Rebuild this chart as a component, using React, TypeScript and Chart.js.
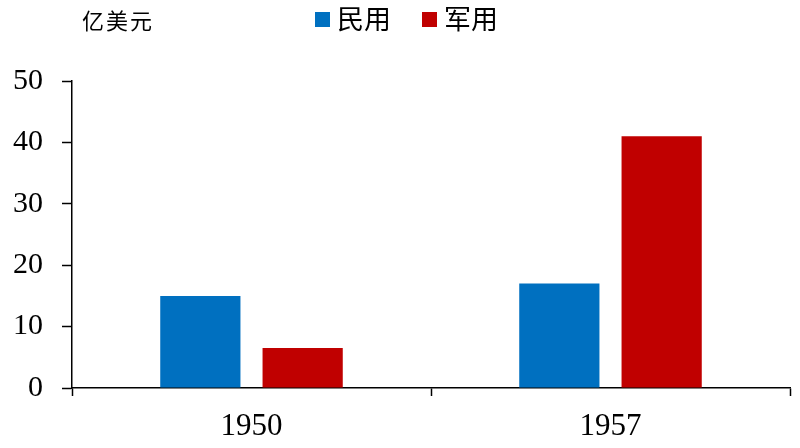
import React, { useEffect, useRef } from "react";
import { Chart, registerables } from "chart.js";

Chart.register(...registerables);

const categories = ["1950", "1957"];
const civilValues = [15, 17];
const militaryValues = [6.5, 41];
const seriesNames = ["民用", "军用"];
const seriesColors = ["#0070C0", "#C00000"];
const unitLabel = "亿美元";
const yTicks = [0, 10, 20, 30, 40, 50];

const overlayPlugin = {
  id: "overlay",
  afterDraw(chart: any) {
    const ctx = chart.ctx;
    ctx.save();
    ctx.fillStyle = "#000";
    ctx.textBaseline = "middle";
    ctx.textAlign = "left";
    ctx.font = "22px 'Noto Sans CJK SC'";
    (ctx as any).letterSpacing = "2px";
    ctx.fillText(unitLabel, 82, 21);
    (ctx as any).letterSpacing = "0px";
    // legend
    const xs = [315, 422];
    ctx.font = "27px 'Noto Sans CJK SC'";
    chart.data.datasets.forEach((ds: any, i: number) => {
      ctx.fillStyle = ds.backgroundColor;
      ctx.fillRect(xs[i], 12, 15, 15);
      ctx.fillStyle = "#000";
      ctx.fillText(ds.label, xs[i] + 22, 19);
    });
    ctx.restore();
  },
};

export default function App() {
  const ref = useRef<HTMLCanvasElement>(null);
  useEffect(() => {
    document.body.style.margin = "0";
    const chart = new Chart(ref.current!, {
      type: "bar",
      data: {
        labels: categories,
        datasets: [
          { label: seriesNames[0], data: civilValues, backgroundColor: seriesColors[0] },
          { label: seriesNames[1], data: militaryValues, backgroundColor: seriesColors[1] },
        ],
      },
      options: {
        animation: false,
        responsive: false,
        maintainAspectRatio: false,
        layout: { padding: { top: 81, right: 10, left: -6, bottom: -9 } },
        datasets: {
          bar: { barPercentage: 0.784, categoryPercentage: 0.57 },
        },
        plugins: {
          legend: { display: false },
          tooltip: { enabled: false },
        },
        scales: {
          x: {
            grid: {
              offset: true,
              drawOnChartArea: false,
              color: "#000",
              tickLength: 8,
              tickWidth: 1.5,
            },
            border: { color: "#000", width: 1.5 },
            ticks: {
              color: "#000",
              padding: 15,
              font: { family: "'Liberation Serif'", size: 31, lineHeight: 1 },
            },
          },
          y: {
            min: 0,
            max: 50,
            afterBuildTicks: (axis: any) => {
              axis.ticks = yTicks.map((v) => ({ value: v }));
            },
            grid: {
              drawOnChartArea: false,
              color: "#000",
              tickLength: 10,
              tickWidth: 1.5,
            },
            border: { color: "#000", width: 1.5 },
            ticks: {
              color: "#000",
              padding: 19,
              font: { family: "'Liberation Serif'", size: 30, lineHeight: 1 },
            },
          },
        },
      },
      plugins: [overlayPlugin],
    });
    return () => chart.destroy();
  }, []);
  return (
    <div style={{ position: "absolute", left: 0, top: 0, width: 800, height: 448 }}>
      <canvas ref={ref} width={800} height={448} style={{ width: 800, height: 448 }} />
    </div>
  );
}
